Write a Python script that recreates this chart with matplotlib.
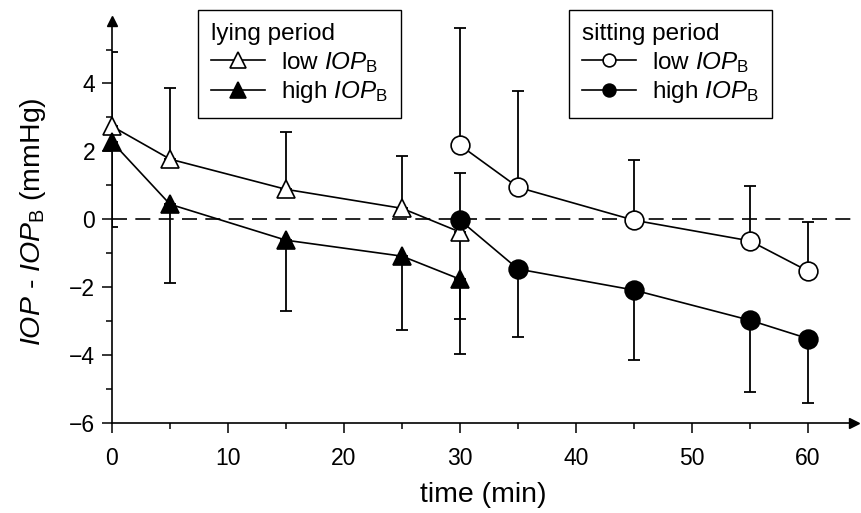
import matplotlib
matplotlib.use("Agg")
import matplotlib.pyplot as plt
import numpy as np

plt.rcParams["font.family"] = ["Liberation Sans", "DejaVu Sans"]
plt.rcParams["mathtext.fontset"] = "custom"
plt.rcParams["mathtext.rm"] = "Liberation Sans"
plt.rcParams["mathtext.it"] = "Liberation Sans:italic"

# lying period (triangles)
lying_t = [0, 5, 15, 25, 30]
lying_low = [2.74, 1.77, 0.88, 0.32, -0.38]
lying_low_err = [2.20, 2.11, 1.69, 1.54, 1.73]      # upper bars only
lying_high = [2.28, 0.44, -0.62, -1.09, -1.77]
lying_high_err = [2.51, 2.32, 2.09, 2.17, 2.21]     # lower bars only

# sitting period (circles)
sitting_t = [30, 35, 45, 55, 60]
sitting_low = [2.18, 0.94, -0.03, -0.64, -1.53]
sitting_low_err = [3.47, 2.84, 1.77, 1.61, 1.45]
sitting_high = [-0.03, -1.47, -2.09, -2.98, -3.52]
sitting_high_err = [2.90, 2.01, 2.07, 2.11, 1.89]

fig = plt.figure(figsize=(8.62, 5.13), dpi=100)
ax = fig.add_axes([0.1299, 0.176, 0.8613, 0.7836])

ax.axhline(0, color="black", lw=1.2, dashes=(9, 5), zorder=1)

# error bars (one-sided)
eb = dict(fmt="none", ecolor="black", elinewidth=1.3, capsize=4.5, capthick=1.3, zorder=2)
z = np.zeros(5)
ax.errorbar(lying_t, lying_low, yerr=[z, lying_low_err], **eb)
ax.errorbar(lying_t, lying_high, yerr=[lying_high_err, z], **eb)
ax.errorbar(sitting_t, sitting_low, yerr=[z, sitting_low_err], **eb)
ax.errorbar(sitting_t, sitting_high, yerr=[sitting_high_err, z], **eb)

ln = dict(color="black", lw=1.2, mec="black", mew=1.2, zorder=3, clip_on=False)
l1, = ax.plot(lying_t, lying_low, marker="^", ms=13.5, mfc="white", label=r"low $\it{IOP}_\mathrm{B}$", **ln)
l2, = ax.plot(lying_t, lying_high, marker="^", ms=13.5, mfc="black", label=r"high $\it{IOP}_\mathrm{B}$", **ln)
s1, = ax.plot(sitting_t, sitting_low, marker="o", ms=13.5, mfc="white", label=r"low $\it{IOP}_\mathrm{B}$", **ln)
s2, = ax.plot(sitting_t, sitting_high, marker="o", ms=13.5, mfc="black", label=r"high $\it{IOP}_\mathrm{B}$", **ln)

ax.set_xlim(0, 64)
ax.set_ylim(-6, 5.85)
ax.set_xticks([0, 10, 20, 30, 40, 50, 60])
ax.set_xticks([5, 15, 25, 35, 45, 55], minor=True)
ax.set_yticks([-6, -4, -2, 0, 2, 4])
ax.set_yticks([-5, -3, -1, 1, 3, 5], minor=True)
ax.set_yticklabels(["\u22126", "\u22124", "\u22122", "0", "2", "4"])
ax.tick_params(which="major", direction="out", length=7.2, width=1.1, labelsize=16.5, color="black")
ax.tick_params(which="minor", direction="out", length=4.3, width=1.1, color="black")
ax.tick_params(axis="x", pad=10)
ax.tick_params(axis="y", pad=5)

for s in ["top", "right"]:
    ax.spines[s].set_visible(False)
for s in ["left", "bottom"]:
    ax.spines[s].set_linewidth(1.2)
ax.plot(1, 0, ">k", ms=7, transform=ax.transAxes, clip_on=False)
ax.plot(0, 1, "^k", ms=7, transform=ax.transAxes, clip_on=False)

ax.set_xlabel("time (min)", fontsize=20.5, labelpad=9)
ax.set_ylabel(r"$\it{IOP}$ - $\it{IOP}_\mathrm{B}$ (mmHg)", fontsize=20.5, labelpad=15)

leg_kw = dict(loc="upper left", bbox_transform=fig.transFigure, fontsize=17.5,
              title_fontsize=17.5, alignment="left", fancybox=False, framealpha=1,
              edgecolor="black", handlelength=2.2, borderpad=0.55,
              labelspacing=0.18, handletextpad=0.65, borderaxespad=0)
leg1 = ax.legend(handles=[l1, l2], title="lying period", markerscale=0.85,
                 bbox_to_anchor=(198 / 862, 1 - 10 / 513), **leg_kw)
leg1.get_frame().set_linewidth(1.0)
ax.add_artist(leg1)
leg2 = ax.legend(handles=[s1, s2], title="sitting period", markerscale=0.68,
                 bbox_to_anchor=(569 / 862, 1 - 10 / 513), **leg_kw)
leg2.get_frame().set_linewidth(1.0)

fig.savefig("out.png", dpi=100)
